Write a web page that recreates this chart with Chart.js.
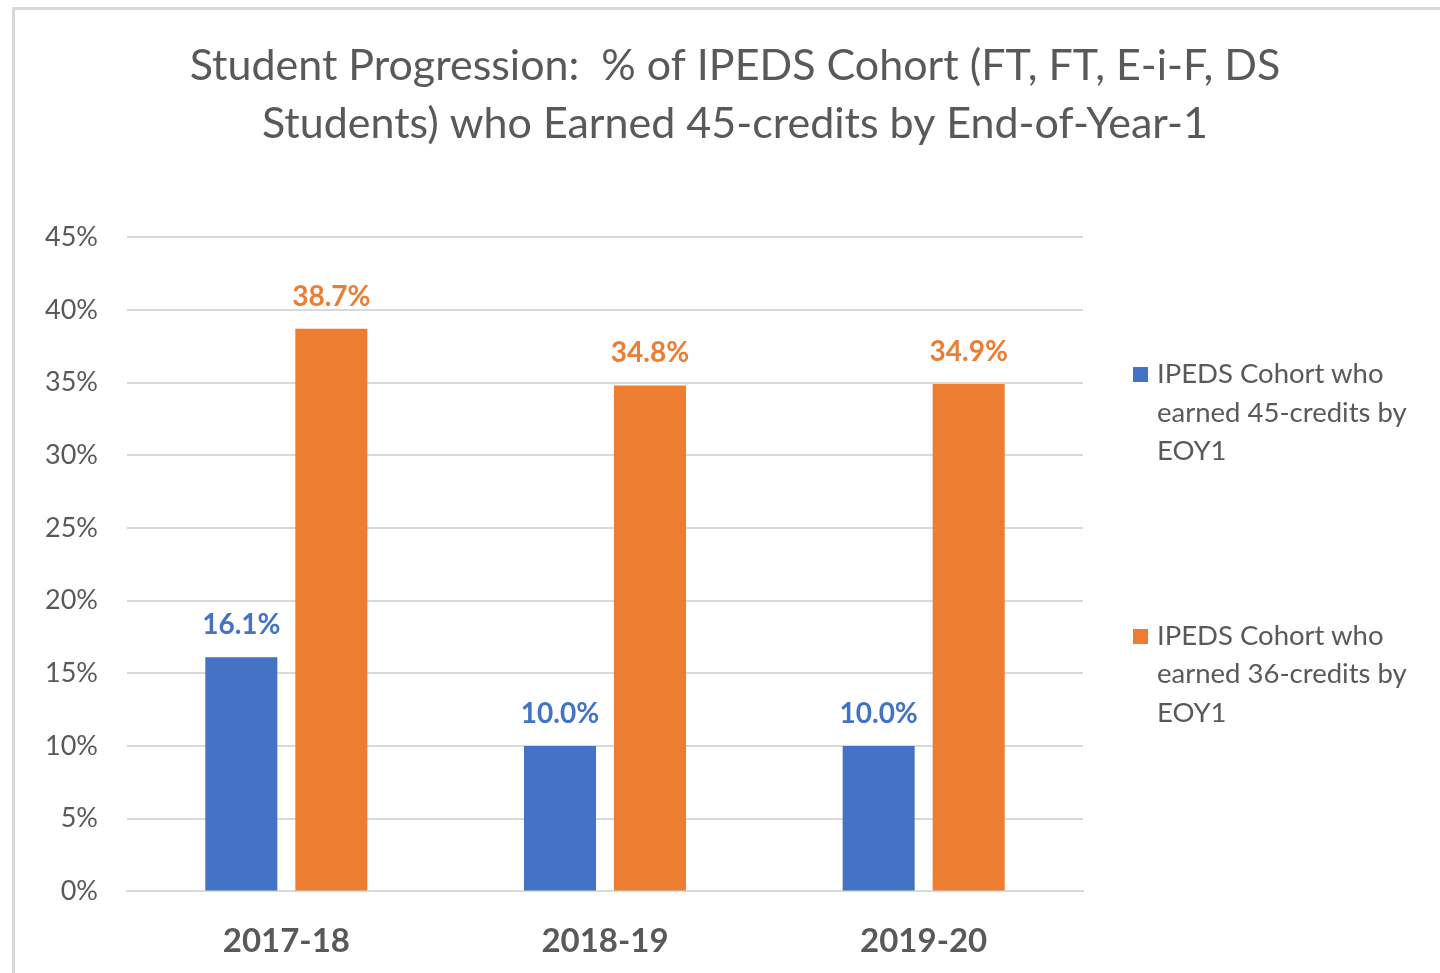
<!DOCTYPE html>
<html>
<head>
<meta charset="utf-8">
<script src="https://cdn.jsdelivr.net/npm/chart.js@4.4.0/dist/chart.umd.min.js"></script>
<style>
  html, body { margin: 0; padding: 0; overflow: hidden; background: #fff; width: 1440px; height: 973px; }
  #frame { position: absolute; left: 12px; top: 7px; width: 1500px; height: 1100px; border: 3px solid #d9d9d9; box-sizing: border-box; }
  #wrap { position: absolute; left: 0; top: 0; width: 1470px; height: 1001px; }
  #legend { position: absolute; left: 1133px; top: 354px; font-family: Lato, sans-serif; font-size: 27.5px; color: #595959; line-height: 38.5px; }
  .item { position: relative; padding-left: 24px; width: 290px; }
  .item + .item { margin-top: 146px; }
  .sw { position: absolute; left: 0; top: 13px; width: 15px; height: 15px; }
</style>
</head>
<body>
<div id="frame"></div>
<div id="wrap"><canvas id="progressChart" width="1470" height="1001"></canvas></div>
<div id="legend"></div>
<script>
// chart data
const years = ['2017-18', '2018-19', '2019-20'];
const earned45 = [16.1, 10.0, 10.0];
const earned36 = [38.7, 34.8, 34.9];
const seriesNames = ['IPEDS Cohort who earned 45-credits by EOY1', 'IPEDS Cohort who earned 36-credits by EOY1'];
const seriesColors = ['#4472C4', '#ED7D31'];
const titleLines = ['Student Progression:  % of IPEDS Cohort (FT, FT, E-i-F, DS', 'Students) who Earned 45-credits by End-of-Year-1'];

const grey = '#595959';

// value labels above bars
const barLabels = {
    id: 'barLabels',
    afterDatasetsDraw(chart) {
        const ctx = chart.ctx;
        ctx.save();
        ctx.font = 'bold 28px Lato, sans-serif';
        ctx.textAlign = 'center';
        ctx.textBaseline = 'middle';
        chart.data.datasets.forEach((ds, i) => {
            const meta = chart.getDatasetMeta(i);
            ctx.fillStyle = ds.backgroundColor;
            meta.data.forEach((bar, j) => {
                ctx.fillText(ds.data[j].toFixed(1) + '%', bar.x, bar.y - 32);
            });
        });
        ctx.restore();
    }
};

const chart = new Chart(document.getElementById('progressChart'), {
    type: 'bar',
    data: {
        labels: years,
        datasets: [
            { label: seriesNames[0], data: earned45, backgroundColor: seriesColors[0] },
            { label: seriesNames[1], data: earned36, backgroundColor: seriesColors[1] }
        ]
    },
    options: {
        responsive: false,
        animation: false,
        categoryPercentage: 0.565,
        barPercentage: 0.8,
        layout: { padding: { left: 0, right: 0, top: 0, bottom: 10 } },
        scales: {
            x: {
                grid: { display: false, drawTicks: false },
                border: { display: true, color: '#d9d9d9', width: 2 },
                ticks: { color: grey, font: { family: 'Lato, sans-serif', size: 33, weight: 'bold' }, padding: 30 }
            },
            y: {
                min: 0,
                max: 45,
                afterFit(scale) { scale.width = 127; },
                grid: { color: '#d9d9d9', lineWidth: 2, drawTicks: false },
                border: { display: false },
                ticks: {
                    stepSize: 5,
                    padding: 29,
                    color: grey,
                    font: { family: 'Lato, sans-serif', size: 27 },
                    callback: v => v + '%'
                }
            },
            // empty right axis reserves the legend space so the title stays centred
            side: {
                position: 'right',
                afterFit(scale) { scale.width = 387; },
                grid: { display: false, drawTicks: false },
                border: { display: false },
                ticks: { display: false }
            }
        },
        plugins: {
            legend: { display: false },
            tooltip: { enabled: false },
            title: {
                display: true,
                text: titleLines,
                color: grey,
                font: { family: 'Lato, sans-serif', size: 43, weight: 'normal', lineHeight: 1.35 },
                padding: { top: 37, bottom: 84 }
            }
        }
    },
    plugins: [barLabels]
});

// html legend, text wraps like the original
const legendEl = document.getElementById('legend');
seriesNames.forEach((name, i) => {
    const item = document.createElement('div');
    item.className = 'item';
    const sw = document.createElement('span');
    sw.className = 'sw';
    sw.style.background = seriesColors[i];
    item.appendChild(sw);
    item.appendChild(document.createTextNode(name));
    legendEl.appendChild(item);
});
</script>
</body>
</html>
